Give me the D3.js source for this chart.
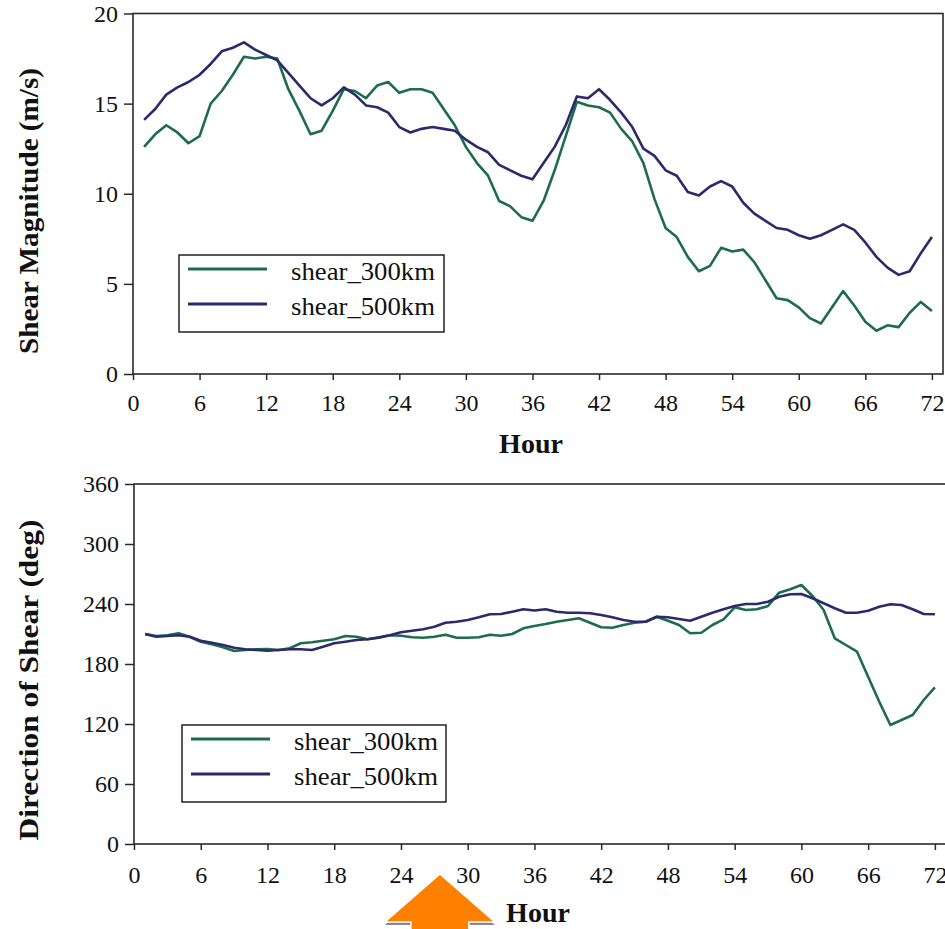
<!DOCTYPE html>
<html>
<head>
<meta charset="utf-8">
<script src="https://cdn.jsdelivr.net/npm/d3@7"></script>
<style>
  html, body { margin: 0; padding: 0; background: #fff; }
  svg { display: block; }
  svg text { fill: #111; }
</style>
</head>
<body>
<svg id="chart" width="945" height="929"></svg>
<script>
// Forecast hour for each sample
const hours = [1,2,3,4,5,6,7,8,9,10,11,12,13,14,15,16,17,18,19,20,21,22,23,24,
  25,26,27,28,29,30,31,32,33,34,35,36,37,38,39,40,41,42,43,44,45,46,47,48,
  49,50,51,52,53,54,55,56,57,58,59,60,61,62,63,64,65,66,67,68,69,70,71,72];

// Shear magnitude (m/s)
const mag300 = [12.6,13.3,13.8,13.4,12.8,13.2,15.0,15.7,16.6,17.6,17.5,17.6,17.5,15.8,14.6,13.3,13.5,14.6,15.8,15.7,
  15.3,16.0,16.2,15.6,15.8,15.8,15.6,14.7,13.8,12.6,11.7,11.0,9.6,9.3,8.7,8.5,9.6,11.3,13.2,15.1,
  14.9,14.8,14.5,13.6,12.9,11.7,9.7,8.1,7.6,6.5,5.7,6.0,7.0,6.8,6.9,6.2,5.2,4.2,4.1,3.7,
  3.1,2.8,3.7,4.6,3.8,2.9,2.4,2.7,2.6,3.4,4.0,3.5];
const mag500 = [14.1,14.7,15.5,15.9,16.2,16.6,17.2,17.9,18.1,18.4,18.0,17.7,17.4,16.7,16.0,15.3,14.9,15.3,15.9,15.5,
  14.9,14.8,14.5,13.7,13.4,13.6,13.7,13.6,13.5,13.0,12.6,12.3,11.6,11.3,11.0,10.8,11.7,12.6,13.8,15.4,
  15.3,15.8,15.2,14.5,13.7,12.5,12.1,11.3,11.0,10.1,9.9,10.4,10.7,10.4,9.5,8.9,8.5,8.1,8.0,7.7,
  7.5,7.7,8.0,8.3,8.0,7.3,6.5,5.9,5.5,5.7,6.7,7.6];

// Shear direction (deg)
const dir300 = [210,208,208.7,210.7,207.3,202.3,199.7,196.7,193,194,194.7,195,194,195.7,200.7,201.7,203.3,204.7,208,207.3,
  204.7,206.7,208.7,208.3,206.7,206.3,207.3,209.3,206.3,206.3,206.7,209.3,208.3,210,215.7,218,220,222.3,224,225.7,
  221.3,216.7,216.3,219,221.3,222.3,227.3,223.3,219,210.7,211.3,219,224.7,236.7,234,234.7,238,251.3,254.7,259,
  248,234,205.7,199,192.3,167.3,142.3,119,124,129,144,156.7];
const dir500 = [210,207.3,208,208.7,207.3,203.3,201.3,199,196.3,194.7,194,193.3,194,194.7,194.7,194,197.3,200.7,202.3,204,
  204.7,206.3,208.7,211.7,213.3,214.7,217.3,221.3,222.3,224,226.7,229.7,230,232.3,234.7,233.5,234.7,232.3,231.3,231.3,
  230.7,229,226.7,224,222.3,222.3,227.3,226.7,225,223.3,227.3,231.3,234.7,238,240,240,242.3,247.3,249.7,250,
  245.7,240.7,235.7,231.3,231.3,233.3,237.3,239.7,239,234.7,230,229.7];

const seriesNames = ["shear_300km", "shear_500km"];
const seriesColors = ["#1e6b4f", "#2c2a6a"];
const hourTicks = [0,6,12,18,24,30,36,42,48,54,60,66,72];
const magTicks = [0,5,10,15,20];
const dirTicks = [0,60,120,180,240,300,360];
const xTitle = "Hour";
const magTitle = "Shear Magnitude (m/s)";
const dirTitle = "Direction of Shear (deg)";
// hour under the pointer arrow at the foot of the lower panel
const pointerHour = 27.5;

const serif = "Liberation Serif";
const svg = d3.select("#chart");

function panel(opts) {
  const x = d3.scaleLinear().domain([0, 73]).range([opts.left, opts.right]);
  const y = d3.scaleLinear().domain(opts.yDomain).range([opts.bottom, opts.top]);
  const g = svg.append("g").attr("font-family", serif);

  // plot frame
  g.append("rect")
    .attr("x", opts.left).attr("y", opts.top)
    .attr("width", opts.right - opts.left).attr("height", opts.bottom - opts.top)
    .attr("fill", "none").attr("stroke", "#2a2a2a").attr("stroke-width", 1.6);

  // axes
  const xAxis = g.append("g")
    .attr("transform", `translate(0,${opts.bottom})`)
    .call(d3.axisBottom(x).tickValues(hourTicks).tickSize(6).tickPadding(opts.xPad).tickFormat(d3.format("d")));
  const yAxis = g.append("g")
    .attr("transform", `translate(${opts.left},0)`)
    .call(d3.axisLeft(y).tickValues(opts.yTicks).tickSize(9).tickPadding(6).tickFormat(d3.format("d")));
  [xAxis, yAxis].forEach(a => {
    a.attr("font-family", serif).attr("font-size", 24);
    a.select(".domain").remove();
    a.selectAll(".tick line").attr("stroke", "#2a2a2a").attr("stroke-width", 1.5);
    a.selectAll(".tick text").attr("fill", "#111");
  });

  // data lines
  const line = d3.line().x((d, i) => x(hours[i])).y(d => y(d));
  opts.series.forEach((s, k) => {
    g.append("path").datum(s)
      .attr("fill", "none")
      .attr("stroke", seriesColors[k])
      .attr("stroke-width", 2.6)
      .attr("stroke-linejoin", "round")
      .attr("d", line);
  });

  // axis titles
  g.append("text")
    .attr("x", opts.xTitleX).attr("y", opts.xTitleY)
    .attr("text-anchor", "middle")
    .attr("font-size", 28).attr("font-weight", "bold")
    .text(xTitle);
  g.append("text")
    .attr("transform", `translate(${opts.yTitleX},${opts.yTitleY}) rotate(-90)`)
    .attr("text-anchor", "middle")
    .attr("font-size", 27).attr("font-weight", "bold")
    .attr("textLength", opts.yTitleLen).attr("lengthAdjust", "spacingAndGlyphs")
    .text(opts.yTitle);

  // legend
  const L = opts.legend;
  const lg = g.append("g").attr("transform", `translate(${L.x},${L.y})`);
  lg.append("rect").attr("width", L.w).attr("height", L.h)
    .attr("fill", "#fff").attr("stroke", "#222").attr("stroke-width", 1.5);
  seriesNames.forEach((name, k) => {
    const ly = 14 + k * 35;
    lg.append("line").attr("x1", 9).attr("x2", 88).attr("y1", ly).attr("y2", ly)
      .attr("stroke", seriesColors[k]).attr("stroke-width", 3);
    lg.append("text").attr("x", 112).attr("y", ly + 11)
      .attr("font-size", 25)
      .attr("textLength", 144).attr("lengthAdjust", "spacingAndGlyphs")
      .text(name);
  });
  return { x, y };
}

panel({
  left: 133, right: 943, top: 13.5, bottom: 374,
  yDomain: [0, 20], yTicks: magTicks, xPad: 14,
  series: [mag300, mag500],
  xTitleX: 531, xTitleY: 453,
  yTitle: magTitle, yTitleX: 38, yTitleY: 211, yTitleLen: 286,
  legend: { x: 179, y: 255, w: 265, h: 77 }
});

const lower = panel({
  left: 134, right: 946, top: 484, bottom: 844,
  yDomain: [0, 360], yTicks: dirTicks, xPad: 16,
  series: [dir300, dir500],
  xTitleX: 538, xTitleY: 922,
  yTitle: dirTitle, yTitleX: 38, yTitleY: 680, yTitleLen: 321,
  legend: { x: 182, y: 725, w: 264, h: 77 }
});

// orange pointer arrow resting on the lower axis labels
const ax = lower.x(pointerHour);
const tipY = 874, baseY = 922, headHalf = 55, shaftHalf = 29;
const arrowPts = [
  [ax, tipY], [ax + headHalf, baseY], [ax + shaftHalf, baseY], [ax + shaftHalf, 940],
  [ax - shaftHalf, 940], [ax - shaftHalf, baseY], [ax - headHalf, baseY]
];
svg.append("polygon")
  .attr("points", arrowPts.map(p => [p[0], p[1] + 3].join(",")).join(" "))
  .attr("fill", "#8a8a8a");
svg.append("polygon")
  .attr("points", arrowPts.map(p => p.join(",")).join(" "))
  .attr("fill", "#ff7f00").attr("stroke", "#ffffff").attr("stroke-width", 1.5)
  .attr("stroke-linejoin", "miter");
</script>
</body>
</html>
